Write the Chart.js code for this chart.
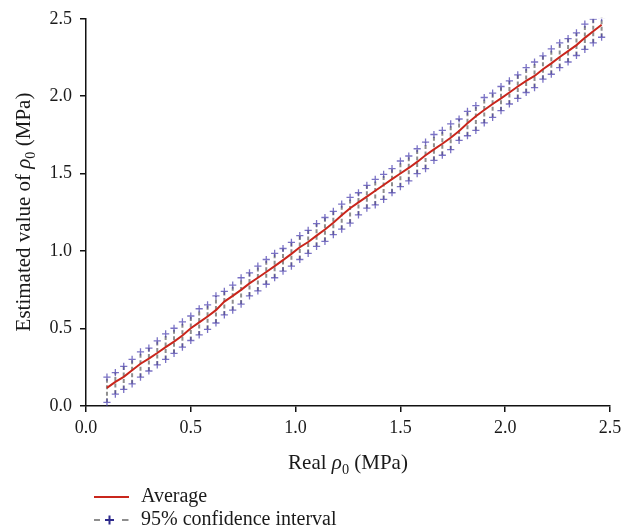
<!DOCTYPE html>
<html>
<head>
<meta charset="utf-8">
<title>Estimated vs real rho0</title>
<script src="https://cdn.jsdelivr.net/npm/chart.js@4.4.0/dist/chart.umd.min.js"></script>
<style>
  html, body { margin: 0; padding: 0; background: #ffffff; }
  #wrap { width: 633px; height: 529px; position: relative; }
</style>
</head>
<body>
<div id="wrap"><canvas id="chart" width="633" height="529"></canvas></div>
<script>
// Real rho0 (MPa) at each simulated case
const realRho = [
  0.10, 0.14, 0.18, 0.22, 0.26, 0.30, 0.34, 0.38, 0.42, 0.46,
  0.50, 0.54, 0.58, 0.62, 0.66, 0.70, 0.74, 0.78, 0.82, 0.86,
  0.90, 0.94, 0.98, 1.02, 1.06, 1.10, 1.14, 1.18, 1.22, 1.26,
  1.30, 1.34, 1.38, 1.42, 1.46, 1.50, 1.54, 1.58, 1.62, 1.66,
  1.70, 1.74, 1.78, 1.82, 1.86, 1.90, 1.94, 1.98, 2.02, 2.06,
  2.10, 2.14, 2.18, 2.22, 2.26, 2.30, 2.34, 2.38, 2.42, 2.46
];

// Average of the estimated rho0 (MPa)
const averageEst = [
  0.117, 0.156, 0.188, 0.231, 0.273, 0.306, 0.342, 0.380, 0.416, 0.455,
  0.502, 0.540, 0.578, 0.619, 0.674, 0.711, 0.750, 0.792, 0.828, 0.865,
  0.903, 0.942, 0.982, 1.025, 1.059, 1.100, 1.140, 1.183, 1.232, 1.277,
  1.315, 1.352, 1.390, 1.427, 1.465, 1.501, 1.537, 1.576, 1.619, 1.657,
  1.693, 1.732, 1.775, 1.825, 1.871, 1.911, 1.950, 1.986, 2.024, 2.063,
  2.099, 2.131, 2.174, 2.212, 2.253, 2.291, 2.330, 2.377, 2.420, 2.462
];

// Upper bound of the 95% confidence interval (MPa)
const upperCI = [
  0.186, 0.216, 0.256, 0.301, 0.350, 0.374, 0.421, 0.466, 0.502, 0.543,
  0.581, 0.628, 0.653, 0.711, 0.740, 0.780, 0.828, 0.860, 0.903, 0.946,
  0.985, 1.017, 1.057, 1.100, 1.134, 1.177, 1.217, 1.256, 1.303, 1.347,
  1.377, 1.424, 1.463, 1.495, 1.533, 1.582, 1.614, 1.661, 1.704, 1.753,
  1.779, 1.821, 1.853, 1.902, 1.939, 1.992, 2.020, 2.063, 2.099, 2.138,
  2.185, 2.221, 2.260, 2.306, 2.345, 2.372, 2.409, 2.465, 2.498, 2.508
];

// Lower bound of the 95% confidence interval (MPa)
const lowerCI = [
  0.024, 0.077, 0.107, 0.143, 0.186, 0.226, 0.265, 0.301, 0.340, 0.380,
  0.423, 0.459, 0.495, 0.536, 0.588, 0.619, 0.658, 0.711, 0.743, 0.786,
  0.828, 0.871, 0.903, 0.946, 0.985, 1.031, 1.063, 1.106, 1.142, 1.181,
  1.234, 1.277, 1.298, 1.334, 1.377, 1.416, 1.454, 1.501, 1.533, 1.586,
  1.619, 1.655, 1.715, 1.745, 1.779, 1.828, 1.864, 1.907, 1.950, 1.986,
  2.024, 2.056, 2.110, 2.142, 2.185, 2.221, 2.263, 2.302, 2.345, 2.381
];

// Axis tick values (same on both axes)
const axisTicks = [0.0, 0.5, 1.0, 1.5, 2.0, 2.5];

const SERIF = '"Liberation Serif", "DejaVu Serif", serif';
const RED = '#c9261c';
const CROSS = 'rgba(70, 60, 175, 0.72)';
const DASH_GREY = '#8e8e8e';

const toPoints = (ys) => realRho.map((x, i) => ({ x: x, y: ys[i] }));

// Vertical dashed segments joining the lower and upper confidence bounds
const intervalBars = {
  id: 'intervalBars',
  beforeDatasetsDraw(chart) {
    const { ctx, chartArea, scales } = chart;
    ctx.save();
    ctx.beginPath();
    ctx.rect(chartArea.left, chartArea.top - 2, chartArea.right - chartArea.left, chartArea.bottom - chartArea.top + 2);
    ctx.clip();
    ctx.strokeStyle = DASH_GREY;
    ctx.lineWidth = 2;
    ctx.setLineDash([4, 2.5]);
    realRho.forEach((x, i) => {
      const px = scales.x.getPixelForValue(x);
      ctx.beginPath();
      ctx.moveTo(px, scales.y.getPixelForValue(lowerCI[i]));
      ctx.lineTo(px, scales.y.getPixelForValue(upperCI[i]));
      ctx.stroke();
    });
    ctx.restore();
  }
};

// Draws a run of text pieces: plain, italic and subscript parts
function measureRuns(ctx, runs, size) {
  let w = 0;
  runs.forEach(r => {
    const s = r.sub ? size * 0.68 : size;
    ctx.font = (r.italic ? 'italic ' : '') + s + 'px ' + SERIF;
    r.w = ctx.measureText(r.t).width;
    w += r.w;
  });
  return w;
}
function drawRuns(ctx, runs, x, y, size) {
  let cx = x;
  runs.forEach(r => {
    const s = r.sub ? size * 0.68 : size;
    ctx.font = (r.italic ? 'italic ' : '') + s + 'px ' + SERIF;
    ctx.fillText(r.t, cx, r.sub ? y + size * 0.22 : y);
    cx += r.w;
  });
}

const TITLE_SIZE = 21;
const axisTitles = {
  id: 'axisTitles',
  afterDraw(chart) {
    const { ctx, chartArea } = chart;
    ctx.save();
    ctx.fillStyle = '#1a1a1a';
    ctx.textBaseline = 'alphabetic';
    ctx.textAlign = 'left';

    const xRuns = [{ t: 'Real ' }, { t: '\u03C1', italic: true }, { t: '0', sub: true }, { t: ' (MPa)' }];
    const xw = measureRuns(ctx, xRuns, TITLE_SIZE);
    const cx = (chartArea.left + chartArea.right) / 2;
    drawRuns(ctx, xRuns, cx - xw / 2, 469, TITLE_SIZE);

    const yRuns = [{ t: 'Estimated value of ' }, { t: '\u03C1', italic: true }, { t: '0', sub: true }, { t: ' (MPa)' }];
    const yw = measureRuns(ctx, yRuns, TITLE_SIZE);
    ctx.translate(30, 212);
    ctx.rotate(-Math.PI / 2);
    drawRuns(ctx, yRuns, -yw / 2, 0, TITLE_SIZE);
    ctx.restore();
  }
};

// Legend below the plot: solid red line, and dashed grey line with a cross
const legendBlock = {
  id: 'legendBlock',
  afterDraw(chart) {
    const { ctx } = chart;
    const items = chart.data.datasets.filter(d => d.legendText);
    ctx.save();
    ctx.font = '20px ' + SERIF;
    ctx.fillStyle = '#1a1a1a';
    ctx.textBaseline = 'middle';
    items.forEach((d, k) => {
      const y = 497 + k * 23;
      if (d.legendKind === 'line') {
        ctx.strokeStyle = d.borderColor;
        ctx.lineWidth = 2;
        ctx.beginPath();
        ctx.moveTo(94, y);
        ctx.lineTo(129, y);
        ctx.stroke();
      } else {
        ctx.strokeStyle = DASH_GREY;
        ctx.lineWidth = 2;
        [[94, 100], [122, 128.5]].forEach(seg => {
          ctx.beginPath();
          ctx.moveTo(seg[0], y);
          ctx.lineTo(seg[1], y);
          ctx.stroke();
        });
        ctx.strokeStyle = '#2e2a8c';
        ctx.lineWidth = 2;
        ctx.beginPath();
        ctx.moveTo(109.5 - 4.5, y);
        ctx.lineTo(109.5 + 4.5, y);
        ctx.moveTo(109.5, y - 4.5);
        ctx.lineTo(109.5, y + 4.5);
        ctx.stroke();
      }
      ctx.fillText(d.legendText, 141, y);
    });
    ctx.restore();
  }
};

const tickFont = { family: SERIF, size: 18 };

new Chart(document.getElementById('chart'), {
  type: 'line',
  data: {
    datasets: [
      {
        label: 'Average',
        legendText: 'Average',
        legendKind: 'line',
        data: toPoints(averageEst),
        borderColor: RED,
        borderWidth: 2,
        pointRadius: 0,
        tension: 0,
        order: 0
      },
      {
        label: '95% confidence interval',
        legendText: '95% confidence interval',
        legendKind: 'interval',
        data: toPoints(upperCI),
        showLine: false,
        pointStyle: 'cross',
        pointRadius: 3.6,
        borderColor: CROSS,
        borderWidth: 1.3,
        order: 1
      },
      {
        label: '95% confidence interval (lower)',
        data: toPoints(lowerCI),
        showLine: false,
        pointStyle: 'cross',
        pointRadius: 3.6,
        borderColor: CROSS,
        borderWidth: 1.3,
        order: 1
      }
    ]
  },
  options: {
    responsive: false,
    animation: false,
    devicePixelRatio: 1,
    layout: { padding: { left: 0, right: 23, top: 16, bottom: 0 } },
    plugins: {
      legend: { display: false },
      tooltip: { enabled: false }
    },
    scales: {
      x: {
        type: 'linear',
        min: 0,
        max: 2.5,
        afterBuildTicks: (s) => { s.ticks = axisTicks.map(v => ({ value: v })); },
        afterFit: (s) => { s.height = 123; },
        ticks: {
          font: tickFont,
          color: '#1a1a1a',
          padding: 5,
          maxRotation: 0,
          callback: (v) => Number(v).toFixed(1)
        },
        grid: { drawOnChartArea: false, drawTicks: true, tickLength: 6, color: '#111', lineWidth: 1.5 },
        border: { display: true, color: '#111', width: 1.5 }
      },
      y: {
        type: 'linear',
        min: 0,
        max: 2.5,
        afterBuildTicks: (s) => { s.ticks = axisTicks.map(v => ({ value: v })); },
        afterFit: (s) => { s.width = 86; },
        ticks: {
          font: tickFont,
          color: '#1a1a1a',
          padding: 8,
          callback: (v) => Number(v).toFixed(1)
        },
        grid: { drawOnChartArea: false, drawTicks: true, tickLength: 6, color: '#111', lineWidth: 1.5 },
        border: { display: true, color: '#111', width: 1.5 }
      }
    }
  },
  plugins: [intervalBars, axisTitles, legendBlock]
});
</script>
</body>
</html>
